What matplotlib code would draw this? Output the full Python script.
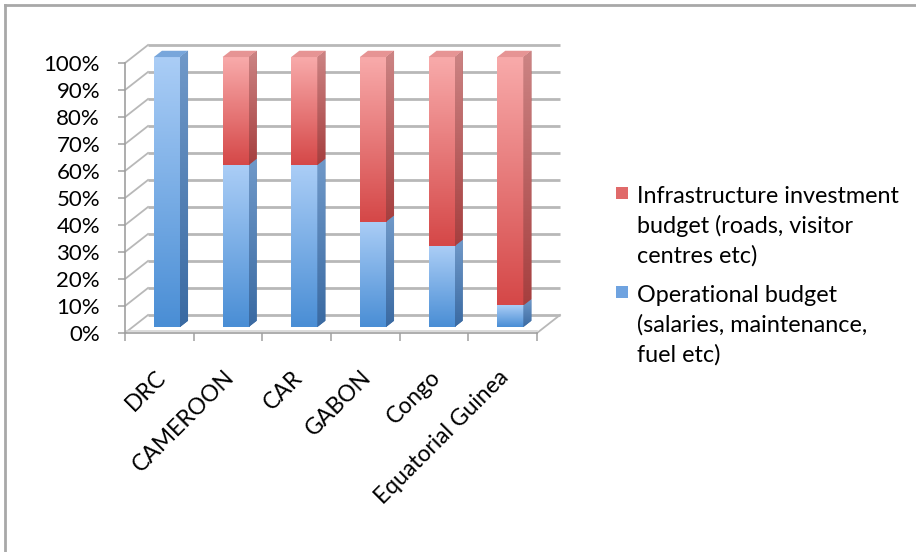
import numpy as np
import matplotlib
matplotlib.use("Agg")
import matplotlib.pyplot as plt
from matplotlib.patches import Polygon, Rectangle
from matplotlib.lines import Line2D
from matplotlib.transforms import ScaledTranslation
from matplotlib.colors import to_rgb

# ---- data -------------------------------------------------------------
countries = ["DRC", "CAMEROON", "CAR", "GABON", "Congo", "Equatorial Guinea"]
operational = [100, 60, 60, 39, 30, 8]          # % of park budget
infrastructure = [100 - v for v in operational]  # % of park budget
legend_lines = {
    "infra": ["Infrastructure investment", "budget (roads, visitor", "centres etc)"],
    "oper": ["Operational budget", "(salaries, maintenance,", "fuel etc)"],
}
y_ticks = list(range(0, 101, 10))

plt.rcParams["font.family"] = ["Lato", "DejaVu Sans"]

W, H = 916, 552
fig = plt.figure(figsize=(W / 100, H / 100), dpi=100)

# ---- geometry of the pseudo-3D plot box --------------------------------
X0_PX, Y0_PX = 125, 333          # front-left corner of the floor (pixels)
CAT_PX = 412 / 6                 # pixels per category
PCT_PX = 2.7                     # pixels per percentage point
XLIM = (-0.5, 6.0)
YLIM = (0, 108)
ax = fig.add_axes([X0_PX / W, (H - Y0_PX) / H,
                   (XLIM[1] - XLIM[0]) * CAT_PX / W,
                   (YLIM[1] - YLIM[0]) * PCT_PX / H])
ax.patch.set_visible(False)

DX = 23 / CAT_PX                 # depth offset of the back wall, data units
DY = 18 / PCT_PX
BAR_FRONT = 0.33                 # bar front face position within the depth
BAR_DEPTH = 0.35                 # bar thickness as a fraction of the depth
BAR_W = 0.38

GRID = "#b8b8b8"
AXIS = "#a0a0a0"

# back wall gridlines and side wall diagonals
xl, xr = -0.5, 5.5
for v in y_ticks:
    ax.plot([xl + DX, xr + DX], [v + DY, v + DY], color=GRID, lw=2.0,
            zorder=1, clip_on=False, solid_capstyle="butt")
    ax.plot([xl, xl + DX], [v, v + DY], color=GRID, lw=1.3, zorder=1,
            clip_on=False)
# floor right edge
ax.plot([xr, xr + DX], [0, DY], color=GRID, lw=1.3, zorder=1, clip_on=False)
ax.plot([xl, xr], [0.7, 0.7], color="#d4d4d4", lw=1.2, zorder=1)

# ---- colours (top, bottom) of each face --------------------------------
STYLE = {
    "oper": {"front": ("#aacdf6", "#4a8ed5"), "side": ("#7099c9", "#3a6aa2"),
             "top": "#78a6db", "base": "#6fa3e0"},
    "infra": {"front": ("#f8aaaa", "#d54848"), "side": ("#cc8484", "#a63f3f"),
              "top": "#e69494", "base": "#e06a6a"},
}


def gradient_fill(patch, top, bottom, zorder):
    """Fill a patch with a vertical colour gradient."""
    if isinstance(patch, Polygon):
        xy = np.asarray(patch.get_xy())
    else:
        xy = np.array([[patch.get_x(), patch.get_y()],
                       [patch.get_x() + patch.get_width(),
                        patch.get_y() + patch.get_height()]])
    t = np.linspace(0, 1, 64)[:, None]
    c = np.array(to_rgb(bottom)) * (1 - t) + np.array(to_rgb(top)) * t
    im = ax.imshow(c[:, None, :], origin="lower", aspect="auto",
                   interpolation="bilinear", zorder=zorder,
                   extent=(xy[:, 0].min(), xy[:, 0].max(),
                           xy[:, 1].min(), xy[:, 1].max()))
    im.set_clip_path(patch)
    return im


x = np.arange(len(countries))
xf = x + BAR_FRONT * DX
yf = BAR_FRONT * DY
ddx, ddy = BAR_DEPTH * DX, BAR_DEPTH * DY

oper_bars = ax.bar(xf, operational, width=BAR_W, bottom=yf,
                   color=STYLE["oper"]["base"], zorder=3, linewidth=0)
infra_bars = ax.bar(xf, infrastructure, width=BAR_W,
                    bottom=[yf + v for v in operational],
                    color=STYLE["infra"]["base"], zorder=3, linewidth=0)

for i in range(len(countries)):
    segments = [("oper", oper_bars[i], 0, operational[i]),
                ("infra", infra_bars[i], operational[i], 100)]
    for key, rect, lo, hi in segments:
        if hi - lo <= 0:
            continue
        st = STYLE[key]
        gradient_fill(rect, *st["front"], zorder=4)
        x_r = xf[i] + BAR_W / 2
        side = Polygon([(x_r, lo + yf), (x_r + ddx, lo + yf + ddy),
                        (x_r + ddx, hi + yf + ddy), (x_r, hi + yf)],
                       closed=True, facecolor=st["side"][1], lw=0, zorder=3)
        ax.add_patch(side)
        gradient_fill(side, *st["side"], zorder=4)
        if hi == 100:
            x_l = xf[i] - BAR_W / 2
            top = Polygon([(x_l, hi + yf), (x_r, hi + yf),
                           (x_r + ddx, hi + yf + ddy), (x_l + ddx, hi + yf + ddy)],
                          closed=True, facecolor=st["top"], lw=0, zorder=4)
            ax.add_patch(top)

ax.set_xlim(XLIM)
ax.set_ylim(YLIM)

# ---- axes, ticks and labels -------------------------------------------
for s in ("top", "right"):
    ax.spines[s].set_visible(False)
ax.spines["left"].set_bounds(0, 100)
ax.spines["bottom"].set_bounds(-0.5, 5.5)
for s in ("left", "bottom"):
    ax.spines[s].set_color(AXIS)
    ax.spines[s].set_linewidth(1.2)

ax.set_yticks(y_ticks)
ax.set_yticklabels([f"{v}%" for v in y_ticks])
ax.tick_params(axis="y", direction="out", length=5, width=1.1, color=AXIS,
               pad=13, labelsize=16)
ax.set_xticks(np.arange(-0.5, 6.0, 1.0))
ax.set_xticklabels([])
ax.tick_params(axis="x", direction="out", length=6, width=1.1, color=AXIS)

label_tf = ax.transData + ScaledTranslation(0.03, -0.41, fig.dpi_scale_trans)
for i, name in enumerate(countries):
    ax.text(i, 0, name, rotation=45, rotation_mode="anchor", ha="right",
            va="center", fontsize=16.5, transform=label_tf, clip_on=False)

# ---- legend -------------------------------------------------------------
legend_items = [("infra", 187, 203), ("oper", 286, 302)]
for key, sq_top, first_base in legend_items:
    fig.add_artist(Rectangle((616 / W, 1 - (sq_top + 12) / H), 12 / W, 12 / H,
                             transform=fig.transFigure,
                             facecolor=STYLE[key]["base"], lw=0))
    for j, line in enumerate(legend_lines[key]):
        fig.text(637 / W, 1 - (first_base + 30 * j) / H, line, fontsize=16.8,
                 va="baseline", ha="left")

# ---- outer frame --------------------------------------------------------
fig.add_artist(Line2D([5 / W, 5 / W], [0, 1 - 5 / H], color="#a8a8a8",
                      lw=2.0, transform=fig.transFigure))
fig.add_artist(Line2D([5 / W, 1], [1 - 5 / H, 1 - 5 / H], color="#a8a8a8",
                      lw=2.0, transform=fig.transFigure))

fig.savefig("out.png", dpi=100)
